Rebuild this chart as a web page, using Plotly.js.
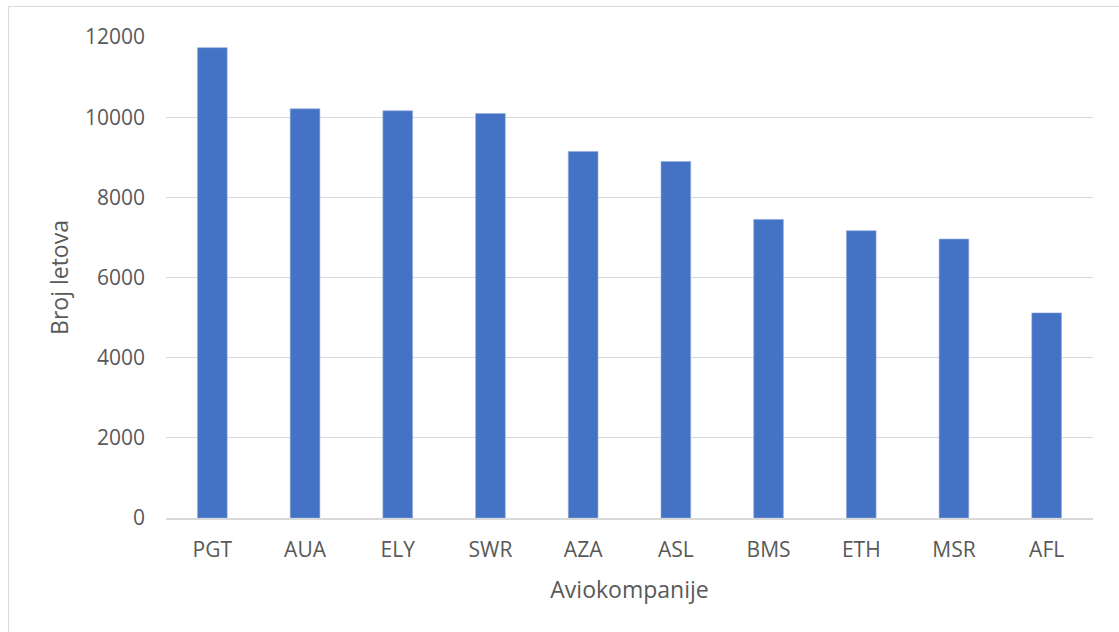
<!DOCTYPE html>
<html>
<head>
<meta charset="utf-8">
<script src="https://cdn.plot.ly/plotly-3.0.1.min.js"></script>
<style>
  html, body { margin: 0; padding: 0; background: #ffffff; }
  #wrap { position: relative; width: 1119px; height: 632px; overflow: hidden; }
  #chart { position: absolute; left: 0; top: 0; width: 1119px; height: 632px; }
  #frame { position: absolute; left: 8px; top: 6px; width: 1120px; height: 640px;
           border: 1px solid #d9d9d9; box-sizing: border-box; pointer-events: none; }
</style>
</head>
<body>
<div id="wrap">
  <div id="chart"></div>
  <div id="frame"></div>
</div>
<script>
const airlines = ["PGT", "AUA", "ELY", "SWR", "AZA", "ASL", "BMS", "ETH", "MSR", "AFL"];
const flights = [11734, 10207, 10158, 10091, 9142, 8892, 7450, 7167, 6958, 5117];
const yTicks = [0, 2000, 4000, 6000, 8000, 10000, 12000];
const xTitle = "Aviokompanije";
const yTitle = "Broj letova";

const font = "Open Sans, Noto Sans, Liberation Sans, sans-serif";
const textColor = "#595959";

const trace = {
  type: "bar",
  x: airlines,
  y: flights,
  marker: { color: "#4472C4", line: { color: "#8FAADC", width: 0.6 } },
  hoverinfo: "x+y"
};

const layout = {
  width: 1119,
  height: 632,
  margin: { l: 166, r: 26, t: 37, b: 113.5 },
  paper_bgcolor: "rgba(0,0,0,0)",
  plot_bgcolor: "#ffffff",
  showlegend: false,
  bargap: 0.68,
  font: { family: font, color: textColor, size: 21 },
  xaxis: {
    type: "category",
    showgrid: false,
    showline: true,
    linecolor: "#d9d9d9",
    linewidth: 1.5,
    ticks: "",
    ticklabelstandoff: 12,
    tickfont: { family: font, color: textColor, size: 21 },
    title: { text: xTitle, font: { family: font, color: textColor, size: 23 }, standoff: 20 }
  },
  yaxis: {
    range: [0, 12000],
    tickvals: yTicks,
    ticktext: yTicks.map(String),
    showgrid: true,
    gridcolor: "#d9d9d9",
    gridwidth: 1.2,
    zeroline: false,
    showline: false,
    ticks: "",
    ticklabelstandoff: 20,
    tickfont: { family: font, color: textColor, size: 21 },
    title: { text: yTitle, font: { family: font, color: textColor, size: 23 }, standoff: 9 }
  }
};

Plotly.newPlot("chart", [trace], layout, { displayModeBar: false, staticPlot: true });
</script>
</body>
</html>
